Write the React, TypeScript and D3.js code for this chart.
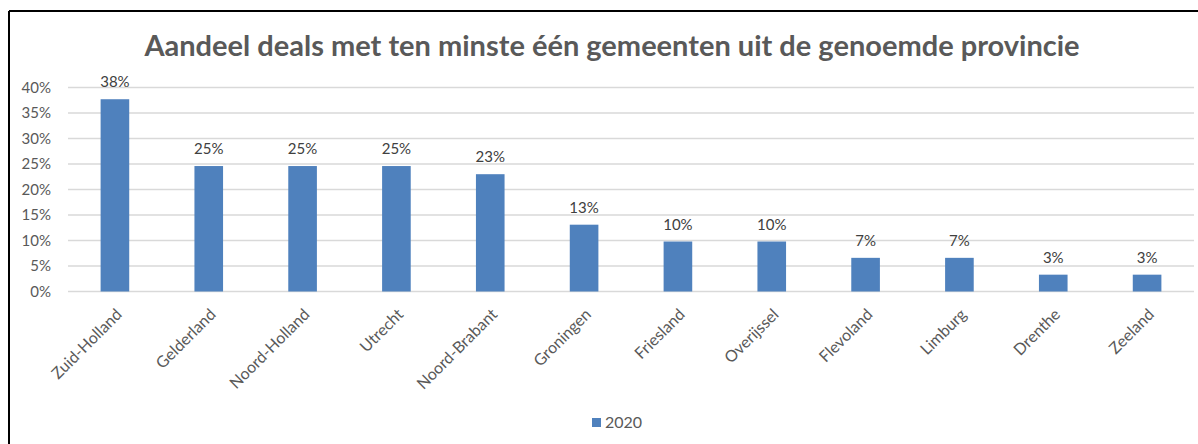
import React from "react";
import * as d3 from "d3";

const title = "Aandeel deals met ten minste één gemeenten uit de genoemde provincie";
const provinces = [
  "Zuid-Holland", "Gelderland", "Noord-Holland", "Utrecht", "Noord-Brabant", "Groningen",
  "Friesland", "Overijssel", "Flevoland", "Limburg", "Drenthe", "Zeeland",
];
const values2020 = [0.377, 0.246, 0.246, 0.246, 0.23, 0.131, 0.098, 0.098, 0.066, 0.066, 0.033, 0.033];
const yTicks = [0, 0.05, 0.1, 0.15, 0.2, 0.25, 0.3, 0.35, 0.4];
const seriesName = "2020";

const W = 1198;
const H = 444;
const plot = { left: 68, right: 1194, top: 87.5, bottom: 291.5 };
const font = "Lato, 'Open Sans', sans-serif";
const grey = "#595959";
const blue = "#4F81BD";

export default function App() {
  const x = d3
    .scaleBand<string>()
    .domain(provinces)
    .range([plot.left, plot.right])
    .paddingInner(0.695)
    .paddingOuter(0.3475);

  const y = d3.scaleLinear().domain([0, 0.4]).range([plot.bottom, plot.top]);
  const pct = d3.format(".0%");

  return (
    <svg width={W} height={H} style={{ position: "absolute", left: 0, top: 0 }} fontFamily={font}>
      <rect width={W} height={H} fill="#fff" />
      {/* frame, cropped on the right and bottom */}
      <line x1={9} x2={W} y1={11} y2={11} stroke="#000" strokeWidth={2} />
      <line x1={9} x2={9} y1={11} y2={H} stroke="#000" strokeWidth={2} />

      <text x={612} y={56} textAnchor="middle" fontSize={29} fontWeight="bold" fill={grey}>
        {title}
      </text>

      {/* gridlines + y labels */}
      {yTicks.map((t) => (
        <g key={t}>
          <line x1={plot.left} x2={plot.right} y1={y(t)} y2={y(t)} stroke="#d9d9d9" strokeWidth={1.5} />
          <text x={51} y={y(t)} dy="0.35em" textAnchor="end" fontSize={15} fill={grey}>
            {pct(t)}
          </text>
        </g>
      ))}

      {/* bars */}
      {provinces.map((p, i) => (
        <g key={p}>
          <rect
            x={x(p)}
            y={y(values2020[i])}
            width={x.bandwidth()}
            height={y(0) - y(values2020[i])}
            fill={blue}
          />
          <text
            x={(x(p) ?? 0) + x.bandwidth() / 2}
            y={y(values2020[i]) - 12}
            textAnchor="middle"
            fontSize={15}
            fill="#404040"
          >
            {pct(values2020[i])}
          </text>
          <text
            transform={`translate(${(x(p) ?? 0) + x.bandwidth() / 2 + 8},${plot.bottom + 24}) rotate(-45)`}
            textAnchor="end"
            fontSize={16}
            fill={grey}
          >
            {p}
          </text>
        </g>
      ))}

      {/* legend */}
      <rect x={592} y={418} width={9} height={9} fill={blue} />
      <text x={605} y={428} fontSize={16} fill={grey}>
        {seriesName}
      </text>
    </svg>
  );
}
